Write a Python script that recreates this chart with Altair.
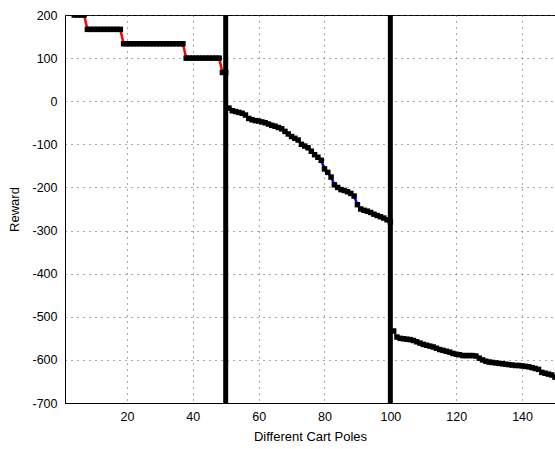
import altair as alt
import pandas as pd

# ---- data ----
g1_x = list(range(1, 51))
g1_y = ([233.3] * 3 + [200.0] * 4 + [166.7] * 11 + [133.3] * 19 + [100.0] * 11 + [66.7] * 2)

g2_x = list(range(51, 101))
g2_y = [-16, -22, -24, -26, -28, -32, -40, -43, -45, -46,
        -48, -50, -53, -56, -58, -61, -64, -70, -76, -82,
        -86, -90, -100, -104, -108, -116, -124, -130, -137, -157,
        -165, -176, -194, -200, -205, -207, -210, -214, -220, -240,
        -250, -253, -255, -258, -262, -265, -268, -271, -275, -280]

g3_x = list(range(101, 151))
g3_y = [-533, -547, -550, -551, -552, -553, -555, -558, -561, -564,
        -566, -568, -570, -573, -576, -578, -580, -582, -585, -587,
        -588, -590, -590, -590, -590, -591, -596, -600, -603, -605,
        -606, -607, -608, -609, -610, -611, -612, -613, -613, -614,
        -615, -616, -618, -620, -622, -629, -631, -633, -635, -640]

separators = [50, 100]
x_ticks = [20, 40, 60, 80, 100, 120, 140]
y_ticks = [-700, -600, -500, -400, -300, -200, -100, 0, 100, 200]

rows = []
for name, xs, ys in (("g1", g1_x, g1_y), ("g2", g2_x, g2_y), ("g3", g3_x, g3_y)):
    for xv, yv in zip(xs, ys):
        rows.append({"x": xv, "y": yv, "group": name})
df = pd.DataFrame(rows)
sep_df = pd.DataFrame({"x": separators})

FONT = "Liberation Sans"

xscale = alt.Scale(domain=[1.2, 150], nice=False, zero=False)
yscale = alt.Scale(domain=[-700, 200], nice=False, zero=False)

common = dict(grid=True, ticks=False, labelFont=FONT, titleFont=FONT,
              labelFontSize=12.5, titleFontSize=13, labelColor="black",
              titleColor="black", titleFontWeight="normal", domainColor="black",
              gridColor="#555555", gridDash=[1, 5], gridOpacity=1, gridWidth=1,
              labelExpr="'' + datum.value")

xaxis = alt.Axis(values=x_ticks, title="Different Cart Poles",
                 labelPadding=7, titlePadding=8, **common)
yaxis = alt.Axis(values=y_ticks, title="Reward",
                 labelPadding=8, titlePadding=10, **common)

base = alt.Chart(df)

lines = base.mark_line(strokeWidth=2.5, clip=True).encode(
    x=alt.X("x:Q", scale=xscale, axis=xaxis),
    y=alt.Y("y:Q", scale=yscale, axis=yaxis),
    color=alt.Color("group:N", scale=alt.Scale(domain=["g1", "g2", "g3"],
                                               range=["#ff0000", "#0000ff", "#00a000"]),
                    legend=None),
    detail="group:N",
)

points = base.mark_square(size=30, color="black", opacity=1, clip=True).encode(
    x=alt.X("x:Q", scale=xscale),
    y=alt.Y("y:Q", scale=yscale),
)

rules = alt.Chart(sep_df).mark_rule(color="black", strokeWidth=5).encode(
    x=alt.X("x:Q", scale=xscale),
)

chart = alt.layer(lines, points, rules).properties(
    width=490,
    height=388,
    background="white",
    autosize=alt.AutoSizeParams(type="none"),
    padding={"left": 65, "top": 15, "right": 0, "bottom": 46},
).configure_view(
    stroke="black", strokeWidth=1
)

chart.save("out.html", embed_options={"renderer": "svg", "actions": False})
